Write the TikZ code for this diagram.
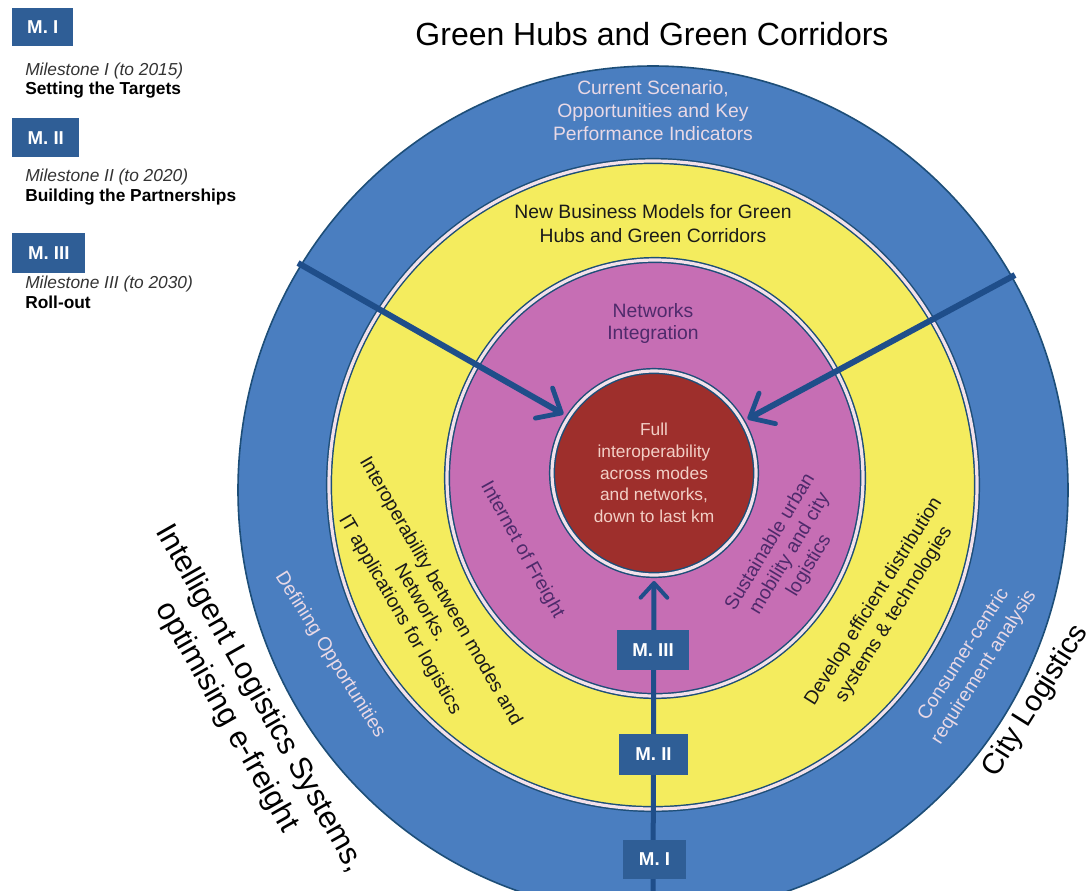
\documentclass[tikz,border=0pt]{standalone}
\usepackage{fontspec}
\setmainfont{Liberation Sans}
\usetikzlibrary{arrows.meta}
\definecolor{ringblue}{HTML}{4A7EC0}
\definecolor{darkline}{HTML}{1D4E78}
\definecolor{ryellow}{HTML}{F4EC5E}
\definecolor{rmagenta}{HTML}{C66EB4}
\definecolor{rred}{HTML}{9E2F2C}
\definecolor{ringwhite}{HTML}{F3E1EA}
\definecolor{arrowblue}{HTML}{1F4E8A}
\definecolor{mboxblue}{HTML}{2F5E96}
\definecolor{lighttext}{HTML}{E9D9E6}
\definecolor{coretext}{HTML}{F2CFC6}
\definecolor{purpletext}{HTML}{4E2A6B}
\definecolor{yellowtext}{HTML}{1A1A1A}
\definecolor{legendgray}{HTML}{333333}
\begin{document}
\begin{tikzpicture}[x=0.75pt,y=-0.75pt]
\tikzset{
  outerring/.style={fill=ringblue, draw=darkline, line width=1.2pt},
  ringed/.style={draw=darkline, line width=1.1pt, double=ringwhite, double distance=2.4pt},
  corenode/.style={circle, minimum size=153pt, inner sep=0pt, outer sep=4.5pt,
     fill=rred, draw=darkline, line width=1.1pt, double=ringwhite, double distance=2.4pt,
     text=coretext, align=center, font=\fontsize{13}{16.25}\selectfont},
  bigarrow/.style={draw=arrowblue, line width=4.5pt,
     -{Straight Barb[length=15pt,width=26pt,line width=3.6pt,round]}},
  smallarrow/.style={draw=arrowblue, line width=3.75pt,
     -{Straight Barb[length=11pt,width=20pt,line width=3pt,round]}},
  mbox/.style={fill=mboxblue, text=white, inner sep=0pt,
     font=\fontsize{14}{16}\bfseries\selectfont},
  bluetxt/.style={text=lighttext, align=center, inner sep=0pt,
     font=\fontsize{14.5}{17.25}\selectfont},
  yellowtxt/.style={text=yellowtext, align=center, inner sep=0pt,
     font=\fontsize{14.5}{17.6}\selectfont},
  purpletxt/.style={text=purpletext, align=center, inner sep=0pt,
     font=\fontsize{14.5}{17}\selectfont},
  bigtxt/.style={text=black, align=center, inner sep=0pt,
     font=\fontsize{23}{28.5}\selectfont},
  legit/.style={text=legendgray, inner sep=0pt, font=\fontsize{13}{15}\itshape\selectfont},
  legbf/.style={text=black, inner sep=0pt, font=\fontsize{13}{15}\bfseries\selectfont}
}
\useasboundingbox (0,0) rectangle (1092,890);
\begin{scope}
\clip (0,0) rectangle (1092,890);
\fill[white] (0,0) rectangle (1092,890);

% title
\node[anchor=base, inner sep=0pt, font=\fontsize{24}{28}\selectfont] (title) at (652,45) {Green Hubs and Green Corridors};

% legend
\node[mbox, anchor=north west, minimum width=45.75pt, minimum height=28.5pt] (legI) at (12,8) {M. I};
\node[legit, anchor=base west] (leg1a) at (25,75) {Milestone I (to 2015)};
\node[legbf, anchor=base west] (leg1b) at (25,94) {Setting the Targets};
\node[mbox, anchor=north west, minimum width=50.25pt, minimum height=29pt] (legII) at (12,118) {M. II};
\node[legit, anchor=base west] (leg2a) at (25,181) {Milestone II (to 2020)};
\node[legbf, anchor=base west] (leg2b) at (25,201) {Building the Partnerships};
\node[mbox, anchor=north west, minimum width=54.75pt, minimum height=30pt] (legIII) at (12,233) {M. III};
\node[legit, anchor=base west] (leg3a) at (25,288) {Milestone III (to 2030)};
\node[legbf, anchor=base west] (leg3b) at (25,308) {Roll-out};

% rings
\draw[outerring] (653,490) ellipse [x radius=415, y radius=424];
\draw[ringed, fill=ryellow] (653,485) circle [radius=324];
\draw[ringed, fill=rmagenta] (655,478) ellipse [x radius=208, y radius=218];

% core
\node[corenode] (core) at (654,473) {Full\\interoperability\\across modes\\and networks,\\down to last km};

% arrows
\coordinate (ulstart) at (298,263);
\coordinate (urstart) at (1015,275);
\coordinate (bstart) at (653,900);
\draw[bigarrow] (ulstart) -- (core.147);
\draw[bigarrow] (urstart) -- (core.30);
\draw[smallarrow] (bstart) -- (core.south);

% milestone boxes on the axis
\node[mbox, minimum width=54pt, minimum height=30pt] (mIII) at (653,650) {M. III};
\node[mbox, minimum width=51.75pt, minimum height=30.75pt] (mII) at (653.5,754.5) {M. II};
\node[mbox, minimum width=47.25pt, minimum height=29.25pt] (mI) at (654.5,859.5) {M. I};

% ring texts
\node[bluetxt] (topblue) at (653,111) {Current Scenario,\\Opportunities and Key\\Performance Indicators};
\node[yellowtxt, font=\fontsize{14.5}{18}\selectfont] (topyellow) at (653,224) {New Business Models for Green\\Hubs and Green Corridors};
\node[purpletxt] (topmag) at (653,323.5) {Networks\\Integration};

\node[purpletxt, rotate=-61] (iof) at (522,550) {Internet of Freight};
\node[yellowtxt, rotate=-60] (interop) at (420,603) {Interoperability between modes and\\Networks.\\IT applications for logistics};
\node[bluetxt, rotate=-58] (defopp) at (330,655) {Defining Opportunities};
\node[bigtxt, rotate=-60.5] (ils) at (243,708) {Intelligent Logistics Systems,\\optimising e-freight};

\node[purpletxt, rotate=59] (sust) at (790,554) {Sustainable urban\\mobility and city\\logistics};
\node[yellowtxt, font=\fontsize{14.5}{18}\selectfont, rotate=58] (develop) at (884,608) {Develop efficient distribution\\systems \& technologies};
\node[bluetxt, font=\fontsize{14.5}{18}\selectfont, rotate=57.5] (consumer) at (974,661) {Consumer-centric\\requirement analysis};
\node[bigtxt, font=\fontsize{22}{26}\selectfont, rotate=58] (city) at (1036,701) {City Logistics};
\end{scope}
\end{tikzpicture}
\end{document}
